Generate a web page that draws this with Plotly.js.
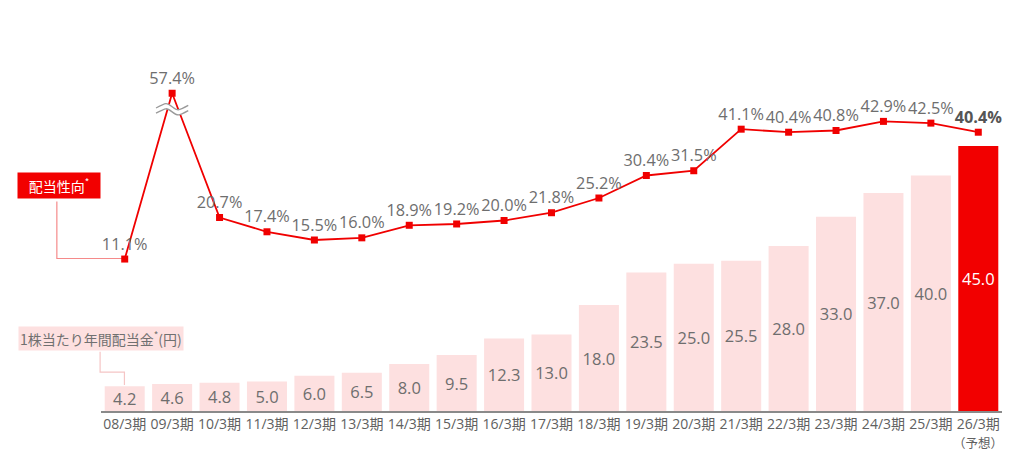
<!DOCTYPE html>
<html><head><meta charset="utf-8">
<script src="https://cdn.plot.ly/plotly-3.0.1.min.js"></script>
<style>html,body{margin:0;padding:0;background:#fff}#c{width:1024px;height:456px}</style>
</head><body><div id="c"></div>
<script>
const categories = ['08/3期','09/3期','10/3期','11/3期','12/3期','13/3期','14/3期','15/3期','16/3期','17/3期','18/3期','19/3期','20/3期','21/3期','22/3期','23/3期','24/3期','25/3期','26/3期'];
const forecastNote = '（予想）';
const dividends = [4.2,4.6,4.8,5.0,6.0,6.5,8.0,9.5,12.3,13.0,18.0,23.5,25.0,25.5,28.0,33.0,37.0,40.0,45.0];
const payoutRatio = [11.1,57.4,20.7,17.4,15.5,16.0,18.9,19.2,20.0,21.8,25.2,30.4,31.5,41.1,40.4,40.8,42.9,42.5,40.4];
const breakCap = 49.4; // broken axis: values above are drawn at the cap

const font = "'Open Sans', 'Noto Sans CJK JP', sans-serif";
const cjk = "'Noto Sans CJK JP', sans-serif";
const n = categories.length;
const barColors = dividends.map((v,i)=> i===n-1 ? '#f20000' : '#fde0e0');
const barTextColors = dividends.map((v,i)=> i===n-1 ? '#ffffff' : '#6e6e6e');
const lineDisplay = payoutRatio.map(v => Math.min(v, breakCap));
const lineText = payoutRatio.map((v,i)=> i===n-1 ? '<b>'+v.toFixed(1)+'%</b>' : v.toFixed(1)+'%');
const lineTextColors = payoutRatio.map((v,i)=> i===n-1 ? '#555555' : '#6e6e6e');

const bars = {
  type:'bar', x:categories, y:dividends, yaxis:'y',
  marker:{color:barColors, line:{width:0}},
  text:dividends.map(v=>v.toFixed(1)), textposition:'inside', insidetextanchor:'middle',
  textangle:0, textfont:{family:font, size:16.5, color:barTextColors}, constraintext:'none',
  hoverinfo:'skip', cliponaxis:false
};
const line = {
  type:'scatter', mode:'lines+markers+text', x:categories, y:lineDisplay, yaxis:'y2',
  line:{color:'#f00000', width:1.8},
  marker:{symbol:'square', size:7, color:'#f00000'},
  text:lineText, textposition:'top center',
  textfont:{family:font, size:16.3, color:lineTextColors},
  cliponaxis:false, hoverinfo:'skip'
};

// break mark below the capped point (index 1), drawn in data coordinates
const bi = 1, by = breakCap - 3.7, hw = 0.34, q = 0.12, amp = 1.0, gap = 0.6;
function wavePts(dy){
  return {a:[bi-hw, by+dy-0.3], c1:[bi-q, by+dy+amp], c2:[bi-q, by+dy+amp], m:[bi, by+dy], s:[bi+q, by+dy-amp], b:[bi+hw, by+dy+0.3]};
}
function wave(dy){
  const p = wavePts(dy);
  return `M ${p.a} C ${p.c1} ${p.c2} ${p.m} S ${p.s} ${p.b}`;
}
function band(){
  const u = wavePts(gap), d = wavePts(-gap);
  return `M ${u.a} C ${u.c1} ${u.c2} ${u.m} S ${u.s} ${u.b} L ${d.b} C ${[bi+q, by-gap-amp]} ${[bi+q, by-gap-amp]} ${d.m} S ${[bi-q, by-gap+amp]} ${d.a} Z`;
}
const shapes = [
  {type:'path', xref:'x', yref:'y2', path: band(), fillcolor:'#ffffff', line:{width:0}, layer:'above'},
  {type:'path', xref:'x', yref:'y2', path: wave(gap), line:{color:'#9a9a9a', width:1.3}, layer:'above'},
  {type:'path', xref:'x', yref:'y2', path: wave(-gap), line:{color:'#9a9a9a', width:1.3}, layer:'above'},
  // connector for payout ratio label
  {type:'path', xref:'paper', yref:'paper', path:'M -0.049 0.565 L -0.049 0.411 L 0.026 0.411', line:{color:'#f58a8a', width:1.2}, layer:'below'},
  // connector for dividend label
  {type:'path', xref:'paper', yref:'paper', path:'M -0.001 0.160 L -0.001 0.105 L 0.026 0.105 L 0.026 0.07', line:{color:'#f5c5c5', width:1.2}, layer:'below'}
];

const annotations = [
  {xref:'paper', yref:'paper', x:-0.0467, y:0.571, xanchor:'center', yanchor:'bottom',
   text:'配当性向<sup>*</sup>', showarrow:false, bgcolor:'#f20000',
   font:{family:cjk, size:14, color:'#ffffff'}, borderpad:2, width:78},
  {xref:'paper', yref:'paper', x:-0.0925, y:0.163, xanchor:'left', yanchor:'bottom',
   text:'1株当たり年間配当金<sup>*</sup>(円)', showarrow:false, bgcolor:'#fde0e0',
   font:{family:cjk, size:14, color:'#707070'}, borderpad:1},
  {xref:'x', yref:'paper', x:categories[n-1], y:-0.055, xanchor:'center', yanchor:'top',
   text:forecastNote, showarrow:false, font:{family:cjk, size:12.5, color:'#606060'}}
];

const layout = {
  width:1024, height:456,
  margin:{l:101, r:22, t:40, b:45},
  paper_bgcolor:'#ffffff', plot_bgcolor:'#ffffff',
  showlegend:false, bargap:0.156,
  xaxis:{type:'category', range:[-0.5, n-0.5], showgrid:false, zeroline:false,
    showline:true, linecolor:'#8a8a8a', linewidth:1.5, ticks:'',
    tickfont:{family:font, size:14, color:'#606060'}, automargin:false},
  yaxis:{range:[0,63], visible:false, fixedrange:true},
  yaxis2:{range:[-24.0, 61.7], overlaying:'y', visible:false, fixedrange:true},
  shapes:shapes, annotations:annotations,
  font:{family:font}
};
Plotly.newPlot('c', [bars, line], layout, {displayModeBar:false, staticPlot:true});
</script>
</body></html>
